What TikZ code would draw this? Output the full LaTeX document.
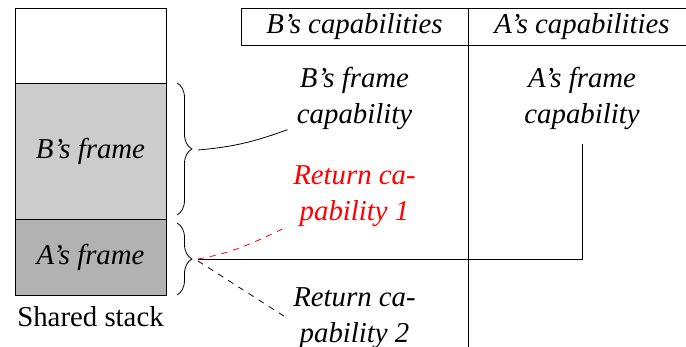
\documentclass[tikz,border=0pt]{standalone}
\usepackage{fontspec}
\setmainfont{Liberation Serif}
\usetikzlibrary{positioning,decorations.pathreplacing}

\begin{document}
\begin{tikzpicture}[x=0.5pt,y=-0.5pt,
		every node/.style={font=\fontsize{14.4}{18}\selectfont},
		cell/.style={draw,minimum width=75.5pt,inner sep=0pt,outer sep=0pt},
		captext/.style={font=\fontsize{14.4}{18}\selectfont\itshape,align=center,inner sep=0pt},
		brc/.style={decorate,decoration={brace,amplitude=7.5pt}}]
	\useasboundingbox (0,0) rectangle (686,347);
	% the stack
	\node[cell,minimum height=37.5pt] (free) at (90.5,45.5) {};
	\node[cell,fill=gray!40,minimum height=68pt,below=0pt of free] (bframe) {\itshape B's frame};
	\node[cell,fill=gray!60,minimum height=38pt,below=0pt of bframe] (aframe) {\itshape A's frame};
	\node[below=2pt of aframe] (stacklbl) {Shared stack};
	\draw[brc] ([xshift=5.5pt]bframe.north east) -- ([xshift=5.5pt,yshift=2pt]bframe.south east);
	\draw[brc] ([xshift=5.5pt,yshift=-2pt]aframe.north east) -- ([xshift=5.5pt]aframe.south east);
	\coordinate (btip) at (198,150);
	\coordinate (atip) at (198,259);
	% the capability table
	\draw (695,8) -- (241,8) -- (241,45) -- (695,45);
	\draw (468,8) -- (468,350);
	\node[captext] (hdrb) at (354.5,26.5) {B's capabilities};
	\node[captext] (hdra) at (582,26.5) {A's capabilities};
	\node[captext] (bcap) at (354.5,98) {B's frame\\capability};
	\node[captext] (acap) at (582,98) {A's frame\\capability};
	\node[captext,text=red] (ret1) at (354.5,196) {Return ca-\\pability 1};
	\node[captext] (ret2) at (354.5,318) {Return ca-\\pability 2};
	% links
	\draw (btip) to[out=5,in=200] ([xshift=-4.5pt]bcap.south west);
	\draw[red,dashed] (atip) to[out=10,in=205] ([xshift=-3pt]ret1.south west);
	\draw[dashed] ([yshift=-1pt]atip) -- ([xshift=-3pt]ret2.west);
	\draw (atip) -| ([yshift=-7pt]acap.south);
\end{tikzpicture}
\end{document}
